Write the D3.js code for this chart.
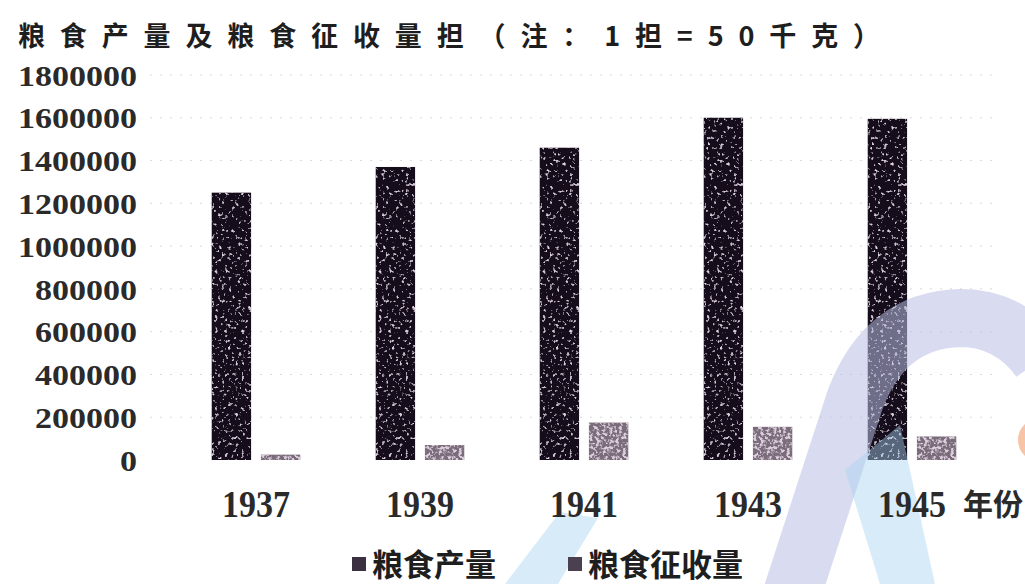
<!DOCTYPE html>
<html>
<head>
<meta charset="utf-8">
<script src="https://cdn.jsdelivr.net/npm/d3@7"></script>
<style>
  body{margin:0;background:#fff;}
  svg{display:block;}
</style>
</head>
<body>
<div class="canvas" id="canvas" style="width:1025px;height:584px"></div>
<script>
// values
var years = ['1937', '1939', '1941', '1943', '1945'];
var series = ['粮食产量', '粮食征收量'];
var output = [1250000, 1370000, 1460000, 1600000, 1595000];
var levy = [25000, 70000, 175000, 155000, 110000];
var yTicks = [0, 200000, 400000, 600000, 800000, 1000000, 1200000, 1400000, 1600000, 1800000];
var colors = ['#17111b', '#7a6c7a'];

var W = 1025, H = 584;

var svg = d3.select('.canvas')
    .append('svg')
    .attr('width', W)
    .attr('height', H);

// sparse light specks, for the scanned look
var defs = svg.append('defs');
function grain(id, cut){
    var f = defs.append('filter').attr('id', id);
    f.append('feTurbulence').attr('type', 'fractalNoise').attr('baseFrequency', 0.3).attr('numOctaves', 2).attr('seed', 3).attr('result', 'n');
    f.append('feColorMatrix').attr('in', 'n').attr('type', 'matrix')
        .attr('values', '0 0 0 0 0.72  0 0 0 0 0.62  0 0 0 0 0.72  6 0 0 0 ' + cut).attr('result', 'spk');
    f.append('feComposite').attr('in', 'spk').attr('in2', 'SourceGraphic').attr('operator', 'in').attr('result', 'sp');
    var fm = f.append('feMerge');
    fm.append('feMergeNode').attr('in', 'SourceGraphic');
    fm.append('feMergeNode').attr('in', 'sp');
}
grain('grain0', -3.7);
grain('grain1', -2.9);

var y = d3.scaleLinear().domain([0, 1800000]).range([460, 75]);
var x0 = d3.scaleBand().domain(years).range([174, 994]).paddingInner(0.46).paddingOuter(0.23);
var x1 = d3.scaleBand().domain(series).range([0, x0.bandwidth()]).paddingInner(0.2);

// faint dotted gridlines
svg.append('g').attr('class', 'grid')
    .selectAll('line')
    .data(yTicks.slice(1))
    .enter().append('line')
    .attr('x1', 150).attr('x2', 1000)
    .attr('y1', function(d){return y(d)}).attr('y2', function(d){return y(d)})
    .style('stroke', '#d9d9d9').style('stroke-width', 1)
    .style('stroke-dasharray', '2,8');

// y axis labels
var yAxis = d3.axisLeft(y).tickValues(yTicks).tickSize(0).tickPadding(0)
    .tickFormat(function(d){return d});
svg.append('g').attr('class', 'y axis')
    .attr('transform', 'translate(137,0)')
    .call(yAxis)
    .call(function(g){ g.select('.domain').remove(); })
    .selectAll('text')
    .attr('dy', '0.35em')
    .style('font-family', '"Liberation Serif", serif')
    .style('font-weight', 'bold')
    .style('font-size', '29px')
    .style('fill', '#2a2a2a')
    .attr('textLength', function(d){return String(d).length * 17})
    .attr('lengthAdjust', 'spacingAndGlyphs');

// bars
var rows = years.map(function(yr, i){
    return {year: yr, vals: [output[i], levy[i]]};
});
var groups = svg.selectAll('.group')
    .data(rows)
    .enter().append('g').attr('class', 'group')
    .attr('transform', function(d){return 'translate(' + x0(d.year) + ',0)'});
groups.selectAll('rect')
    .data(function(d){return d.vals.map(function(v, j){return {s: series[j], v: v, j: j}})})
    .enter().append('rect')
    .attr('x', function(d){return x1(d.s)})
    .attr('width', x1.bandwidth())
    .attr('y', function(d){return y(d.v)})
    .attr('height', function(d){return y(0) - y(d.v)})
    .style('fill', function(d){return colors[d.j]})
    .attr('filter', function(d){return 'url(#grain' + d.j + ')'});

// watermark shapes of the scan (drawn over the chart, translucent)
var wm = svg.append('g').attr('class', 'watermark').style('pointer-events', 'none');
wm.append('path')
    .attr('d', 'M790,600 L855,400 Q885,320 960,318 Q1010,318 1040,360')
    .style('fill', 'none').style('stroke', '#b9bfe3').style('stroke-width', 58)
    .style('stroke-linecap', 'butt').style('opacity', 0.55);
wm.append('path')
    .attr('d', 'M845,470 L900,425 L935,584 L880,584 Z')
    .style('fill', '#a9d3ef').style('opacity', 0.45);
wm.append('path')
    .attr('d', 'M505,584 L560,512 L598,518 L558,584 Z')
    .style('fill', '#a9d3ef').style('opacity', 0.45);
wm.append('circle').attr('cx', 1040).attr('cy', 440).attr('r', 22)
    .style('fill', '#f5b08a').style('opacity', 0.75);

// x axis labels
var xAxis = d3.axisBottom(x0).tickSize(0).tickPadding(0);
svg.append('g').attr('class', 'x axis')
    .attr('transform', 'translate(0,504)')
    .call(xAxis)
    .call(function(g){ g.select('.domain').remove(); })
    .selectAll('text')
    .attr('dy', '0.35em')
    .style('font-family', '"Liberation Serif", serif')
    .style('font-weight', 'bold')
    .style('font-size', '38px')
    .style('fill', '#2a2a2a')
    .attr('textLength', 68)
    .attr('lengthAdjust', 'spacingAndGlyphs');

svg.append('text')
    .attr('x', 963).attr('y', 515)
    .style('font-family', '"Noto Sans CJK SC", sans-serif')
    .style('font-weight', 'bold')
    .style('font-size', '30px')
    .style('fill', '#2a2a2a')
    .text('年份');

// title
svg.append('text')
    .attr('x', 18).attr('y', 46)
    .style('font-family', '"Noto Sans CJK SC", sans-serif')
    .style('font-weight', 'bold')
    .style('font-size', '27px')
    .style('fill', '#1e1e1e')
    .attr('textLength', 862)
    .attr('lengthAdjust', 'spacing')
    .text('粮食产量及粮食征收量担（注：1担=50千克）');

// legend
var legend = svg.append('g').attr('class', 'legend');
var legX = [352, 568];
series.forEach(function(s, i){
    var lg = legend.append('g').attr('transform', 'translate(' + legX[i] + ',565)');
    lg.append('rect').attr('x', 0).attr('y', -8).attr('width', 14).attr('height', 14)
        .style('fill', i === 0 ? '#3a3040' : '#4a4050');
    lg.append('text').attr('x', 20).attr('dy', '0.35em')
        .style('font-family', '"Noto Sans CJK SC", sans-serif')
        .style('font-weight', 'bold')
        .style('font-size', '31px')
        .style('fill', '#1e1e1e')
        .text(s);
});
</script>
</body>
</html>
